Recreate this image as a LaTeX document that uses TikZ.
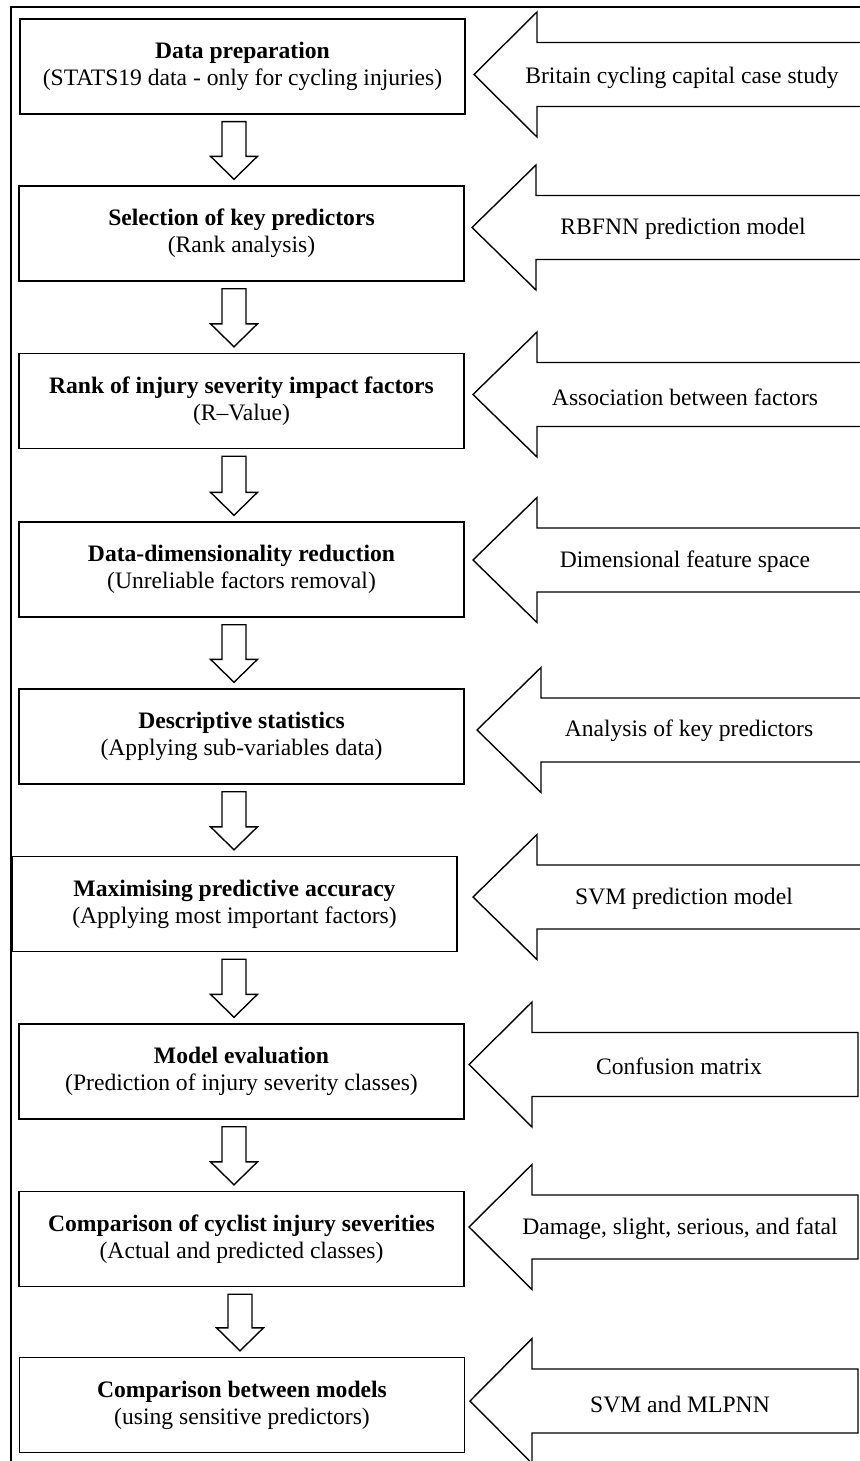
\documentclass[tikz,border=0pt]{standalone}
\usepackage{fontspec}
\setmainfont{Liberation Serif}
\usetikzlibrary{calc}

\tikzset{
  stepbox/.style={draw, line width=0.7pt, minimum width=222.5pt, minimum height=47.5pt,
    inner sep=0pt, align=center, font=\fontsize{11.8}{13.6}\selectfont},
  blk/.style={draw, line width=0.7pt, line join=miter},
  sidetext/.style={font=\fontsize{11.8}{13.6}\selectfont, inner sep=0pt},
  frame/.style={line width=1.1pt},
}

% hollow block arrow pointing down from box #1 to box #2 along axis #3
\newcommand\flowdown[3]{%
  \draw[blk] ($(#1.south -| #3)+(-12,7)$) -- ($(#1.south -| #3)+(12,7)$)
    -- ($(#2.north -| #3)+(12,-29)$) -- ($(#2.north -| #3)+(23.5,-29)$)
    -- ($(#2.north -| #3)+(0,-6)$) -- ($(#2.north -| #3)+(-23.5,-29)$)
    -- ($(#2.north -| #3)+(-12,-29)$) -- cycle;}

% wide hollow arrow pointing left to tip #1, head depth #2, tail at #3, #4 closes it
\newcommand\sidearrow[4]{%
  \draw[blk] ($(#1 -| #3)+(0,-32)$) -- ($(#1)+(#2,-32)$) -- ($(#1)+(#2,-62.5)$)
    -- (#1) -- ($(#1)+(#2,62.5)$) -- ($(#1)+(#2,32)$) -- ($(#1 -| #3)+(0,32)$) #4;}

\begin{document}
\begin{tikzpicture}[x=0.5pt, y=-0.5pt]
\useasboundingbox (0,0) rectangle (859,1461);

% outer frame (top and left edges)
\draw[frame] (11,1475) -- (11,7) -- (875,7);

% process steps
\node[stepbox] (b1) at (242.5,66.5) {\textbf{Data preparation}\\(STATS19 data - only for cycling injuries)};
\node[stepbox] (b2) at (241.5,233.5) {\textbf{Selection of key predictors}\\(Rank analysis)};
\node[stepbox] (b3) at (241.5,401) {\textbf{Rank of injury severity impact factors}\\(R–Value)};
\node[stepbox] (b4) at (241.5,569.5) {\textbf{Data-dimensionality reduction}\\(Unreliable factors removal)};
\node[stepbox] (b5) at (241.5,736.5) {\textbf{Descriptive statistics}\\(Applying sub-variables data)};
\node[stepbox] (b6) at (234.5,904) {\textbf{Maximising predictive accuracy}\\(Applying most important factors)};
\node[stepbox] (b7) at (241.5,1071.5) {\textbf{Model evaluation}\\(Prediction of injury severity classes)};
\node[stepbox] (b8) at (241.5,1239) {\textbf{Comparison of cyclist injury severities}\\(Actual and predicted classes)};
\node[stepbox] (b9) at (242,1405) {\textbf{Comparison between models}\\(using sensitive predictors)};

% axes of the downward arrows
\coordinate (ax) at (234,0);
\coordinate (axb) at (240,0);

\flowdown{b1}{b2}{ax}
\flowdown{b2}{b3}{ax}
\flowdown{b3}{b4}{ax}
\flowdown{b4}{b5}{ax}
\flowdown{b5}{b6}{ax}
\flowdown{b6}{b7}{ax}
\flowdown{b7}{b8}{ax}
\flowdown{b8}{b9}{axb}

% tails of the side arrows: running off the page, or closed at the edge
\coordinate (rout) at (880,0);
\coordinate (rin) at (858,0);

% tips of the side arrows
\coordinate (t1) at (474,74.5);
\coordinate (t2) at (472,227.5);
\coordinate (t3) at (473,394.5);
\coordinate (t4) at (473,560);
\coordinate (t5) at (477,730);
\coordinate (t6) at (473,897);
\coordinate (t7) at (469,1064.5);
\coordinate (t8) at (469,1227);
\coordinate (t9) at (470,1401);

\sidearrow{t1}{63}{rout}{}
\sidearrow{t2}{64}{rout}{}
\sidearrow{t3}{64}{rout}{}
\sidearrow{t4}{64}{rout}{}
\sidearrow{t5}{64}{rout}{}
\sidearrow{t6}{64}{rout}{}
\sidearrow{t7}{63}{rin}{-- cycle}
\sidearrow{t8}{63}{rin}{-- cycle}
\sidearrow{t9}{62}{rin}{-- cycle}

% side arrow labels
\node[sidetext] (s1) at (682,78) {Britain cycling capital case study};
\node[sidetext] (s2) at (683,229) {RBFNN prediction model};
\node[sidetext] (s3) at (685,397) {Association between factors};
\node[sidetext] (s4) at (685,562) {Dimensional feature space};
\node[sidetext] (s5) at (689,731) {Analysis of key predictors};
\node[sidetext] (s6) at (684,899) {SVM prediction model};
\node[sidetext] (s7) at (679,1066) {Confusion matrix};
\node[sidetext] (s8) at (680,1229) {Damage, slight, serious, and fatal};
\node[sidetext] (s9) at (680,1404) {SVM and MLPNN};
\end{tikzpicture}
\end{document}
